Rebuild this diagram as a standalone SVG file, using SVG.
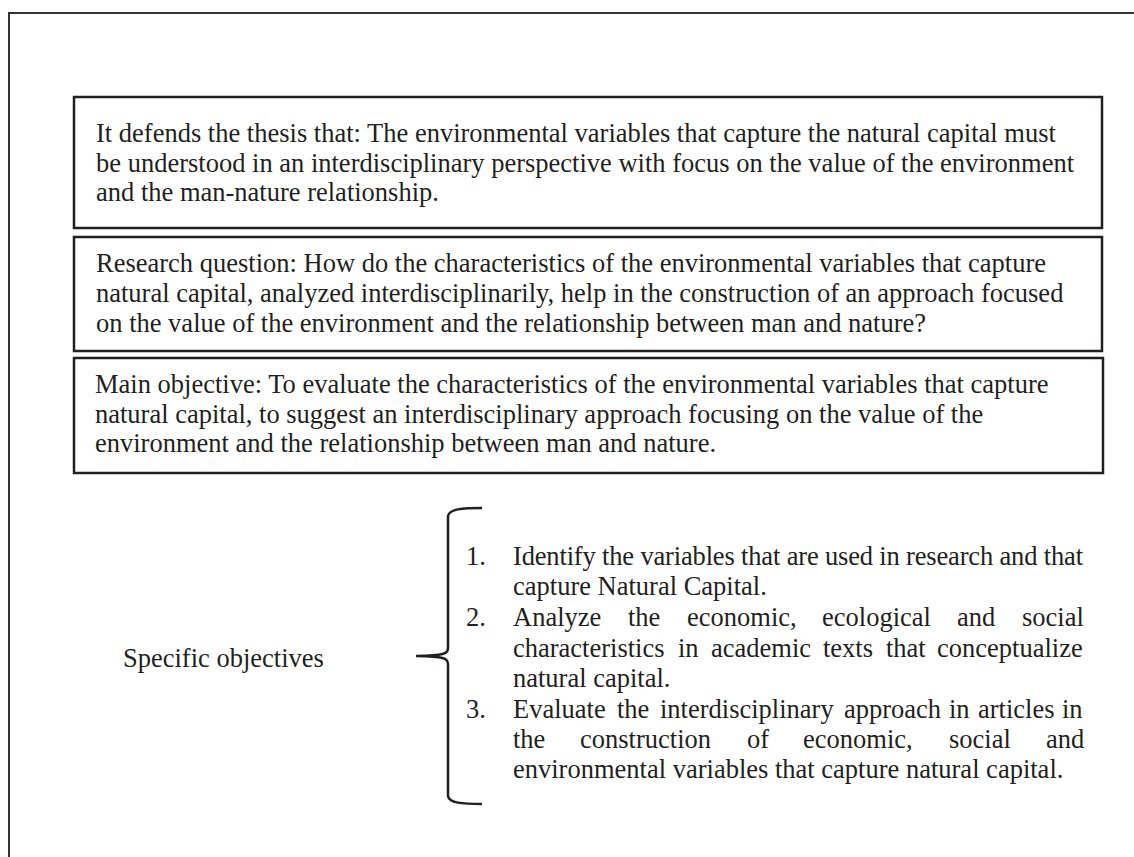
<svg xmlns="http://www.w3.org/2000/svg" width="1134" height="857" viewBox="0 0 1134 857">
<style>
.t{font-family:"Liberation Serif","Times New Roman",serif;font-size:26.5px;fill:#231f20}
.box{fill:#fff;stroke:#231f20;stroke-width:2.5}
.frame{fill:none;stroke:#333;stroke-width:2}
.brace{fill:none;stroke:#231f20;stroke-width:2.5}
</style>
<rect width="1134" height="857" fill="#fff"/>
<g id="frame">
<path class="frame" d="M9,857 L9,13 L1134,13"/>
</g>
<g id="thesis">
<rect class="box" x="74" y="97" width="1028" height="131"/>
<text class="t" x="96" y="142">It defends the thesis that: The environmental variables that capture the natural capital must</text>
<text class="t" x="96" y="172">be understood in an interdisciplinary perspective with focus on the value of the environment</text>
<text class="t" x="96" y="201">and the man-nature relationship.</text>
</g>
<g id="question">
<rect class="box" x="74" y="237" width="1028" height="114"/>
<text class="t" x="96" y="272">Research question: How do the characteristics of the environmental variables that capture</text>
<text class="t" x="96" y="302">natural capital, analyzed interdisciplinarily, help in the construction of an approach focused</text>
<text class="t" x="96" y="332">on the value of the environment and the relationship between man and nature?</text>
</g>
<g id="objective">
<rect class="box" x="74" y="358" width="1029" height="115"/>
<text class="t" x="95" y="393">Main objective: To evaluate the characteristics of the environmental variables that capture</text>
<text class="t" x="95" y="423">natural capital, to suggest an interdisciplinary approach focusing on the value of the</text>
<text class="t" x="95" y="452">environment and the relationship between man and nature.</text>
</g>
<g id="specific">
<text class="t" x="123" y="667">Specific objectives</text>
</g>
<g id="connectors">
<path class="brace" d="M482,508 C462,508 449,509 448,516 L448,648 C448,654 444,655.5 416,656 C444,656.5 448,658 448,664 L448,796 C449,803 462,804 482,804"/>
</g>
<g id="list">
<text class="t" x="466" y="565">1.</text>
<text class="t" x="513" y="565" textLength="570" lengthAdjust="spacing">Identify the variables that are used in research and that</text>
<text class="t" x="513" y="595">capture Natural Capital.</text>
<text class="t" x="466" y="626">2.</text>
<text class="t" y="626"><tspan x="513">Analyze</tspan><tspan x="628">the</tspan><tspan x="687">economic,</tspan><tspan x="822">ecological</tspan><tspan x="957">and</tspan><tspan x="1022">social</tspan></text>
<text class="t" y="657"><tspan x="513">characteristics</tspan><tspan x="678">in</tspan><tspan x="711">academic</tspan><tspan x="823">texts</tspan><tspan x="886">that</tspan><tspan x="937">conceptualize</tspan></text>
<text class="t" x="513" y="687">natural capital.</text>
<text class="t" x="466" y="718">3.</text>
<text class="t" y="718"><tspan x="513">Evaluate</tspan><tspan x="617">the</tspan><tspan x="660">interdisciplinary</tspan><tspan x="844">approach</tspan><tspan x="949">in</tspan><tspan x="978">articles</tspan><tspan x="1062">in</tspan></text>
<text class="t" y="748"><tspan x="513">the</tspan><tspan x="580">construction</tspan><tspan x="747">of</tspan><tspan x="803">economic,</tspan><tspan x="949">social</tspan><tspan x="1046">and</tspan></text>
<text class="t" x="513" y="778">environmental variables that capture natural capital.</text>
</g>
</svg>
